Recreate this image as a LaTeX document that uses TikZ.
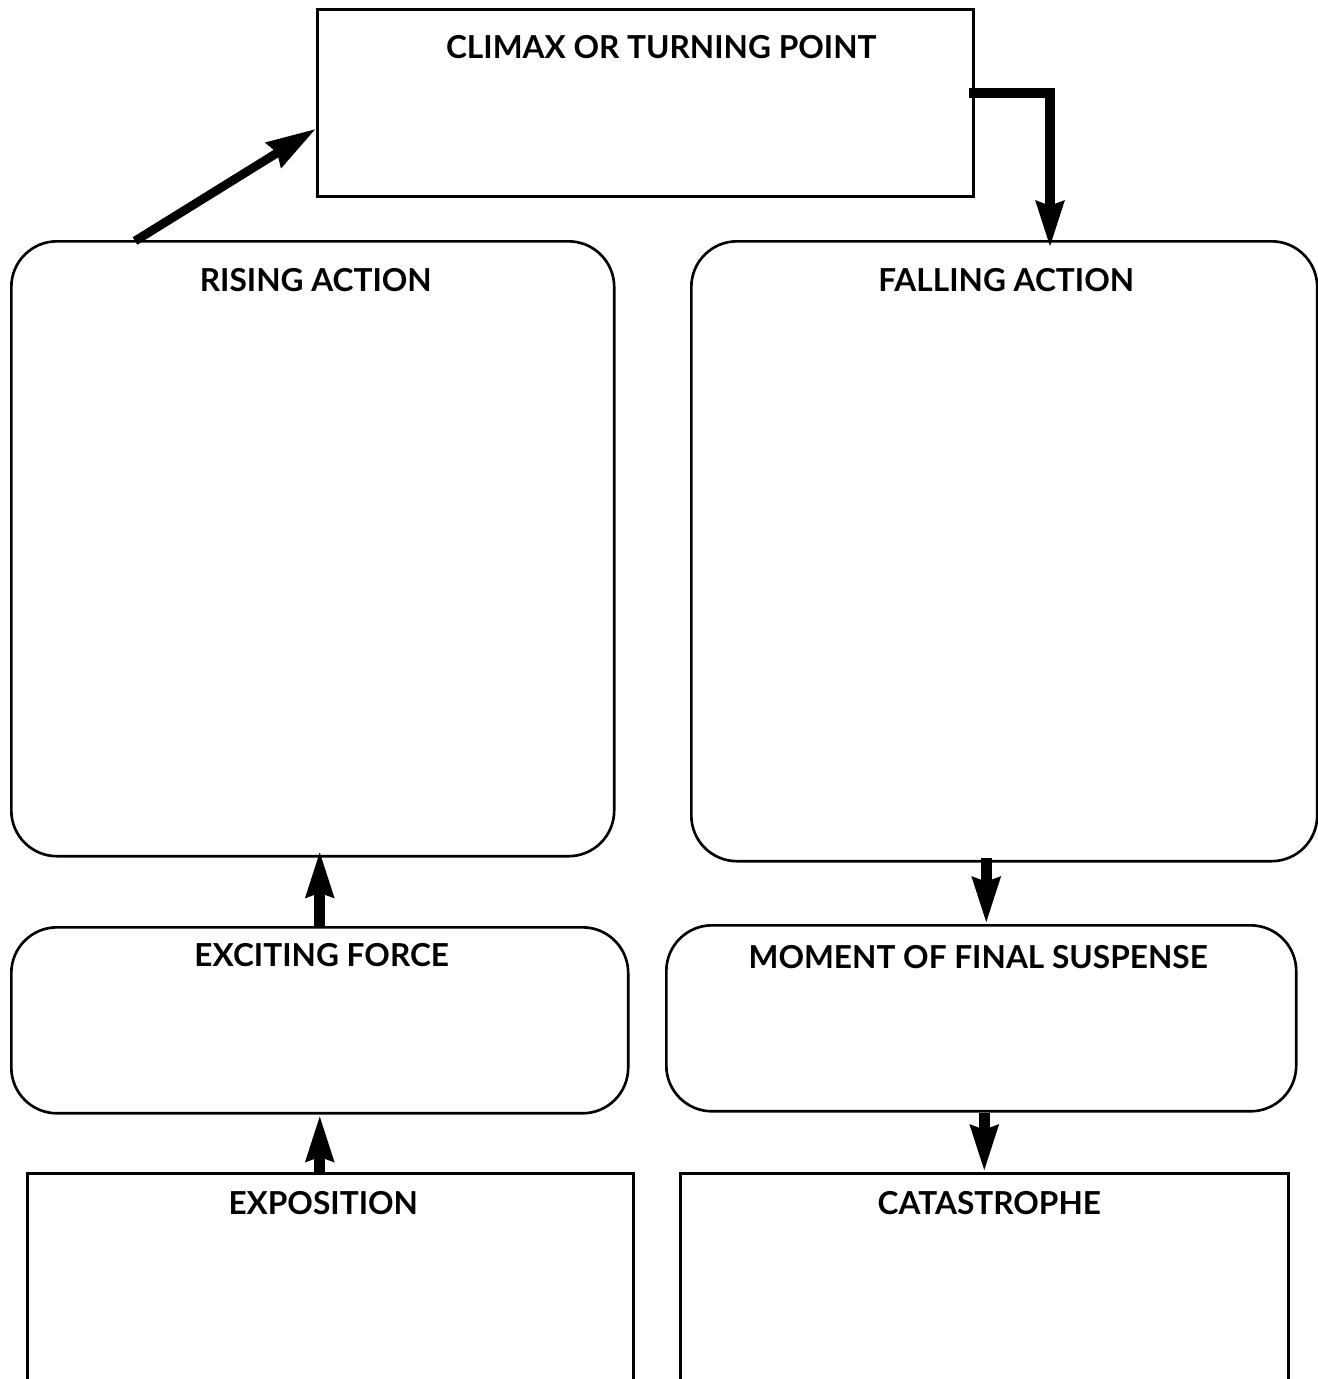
\documentclass[tikz,border=0pt]{standalone}
\usepackage{fontspec}
\setmainfont{Lato}
\usetikzlibrary{arrows.meta,positioning,calc}

\tikzset{
	box/.style={draw, line width=1.5pt, inner sep=0pt, anchor=north west},
	roundbox/.style={box, rounded corners=26pt},
	title/.style={font=\bfseries\fontsize{18}{21}\selectfont, inner sep=0pt},
	flow/.style={line width=6pt, line join=miter, -{Stealth[length=26pt,width=15pt,inset=2pt]}},
}

\begin{document}
\begin{tikzpicture}[x=0.02cm, y=-0.02cm]
	\clip (0,0) rectangle (1318,1379);
	% boxes, in pixel units of the sheet
	\node[box, minimum width=13.12cm, minimum height=3.74cm] (climax) at (316,8) {};
	\node[roundbox, minimum width=12.06cm, minimum height=12.3cm] (rising) at (10,240) {};
	\node[roundbox, minimum width=12.52cm, minimum height=12.4cm] (falling) at (690,240) {};
	\node[roundbox, minimum width=12.34cm, minimum height=3.72cm] (exciting) at (10,926) {};
	\node[roundbox, minimum width=12.6cm, minimum height=3.72cm] (moment) at (665,924) {};
	\node[box, minimum width=12.12cm, minimum height=4.8cm] (exposition) at (26,1172) {};
	\node[box, minimum width=12.16cm, minimum height=4.8cm] (catastrophe) at (679,1172) {};

	\node[title] (climaxtxt) at ($(climax.north)+(16,39)$) {CLIMAX OR TURNING POINT};
	\node[title] (risingtxt) at ($(rising.north)+(3,40)$) {RISING ACTION};
	\node[title] (fallingtxt) at ($(falling.north)+(2,40)$) {FALLING ACTION};
	\node[title] (excitingtxt) at ($(exciting.north)+(2,29)$) {EXCITING FORCE};
	\node[title] (momenttxt) at ($(moment.north)+(-3,33)$) {MOMENT OF FINAL SUSPENSE};
	\node[title] (expositiontxt) at ($(exposition.north)+(-7,31)$) {EXPOSITION};
	\node[title] (catastrophetxt) at ($(catastrophe.north)+(5,31)$) {CATASTROPHE};

	% arrows
	\draw[line width=5pt, -{Stealth[length=28pt,width=16pt,inset=2pt]}] ($(rising.north west)+(125,1)$) -- ($(climax.west)+(0,26)$);
	\draw[flow] ($(climax.east)+(-6,-10)$) -| ($(falling.north west)+(360,8)$);
	\draw[flow] (exciting.north) -- ($(exciting.north |- rising.south)+(0,-7)$);
	\draw[flow] (exposition.north -| exciting.south) -- (exciting.south);
	\coordinate (fm) at ($(moment.north)+(5,0)$);
	\draw[flow] ($(fm |- falling.south)+(0,-5)$) -- (fm);
	\draw[flow] (moment.south -| catastrophe.north) -- (catastrophe.north);
\end{tikzpicture}
\end{document}
